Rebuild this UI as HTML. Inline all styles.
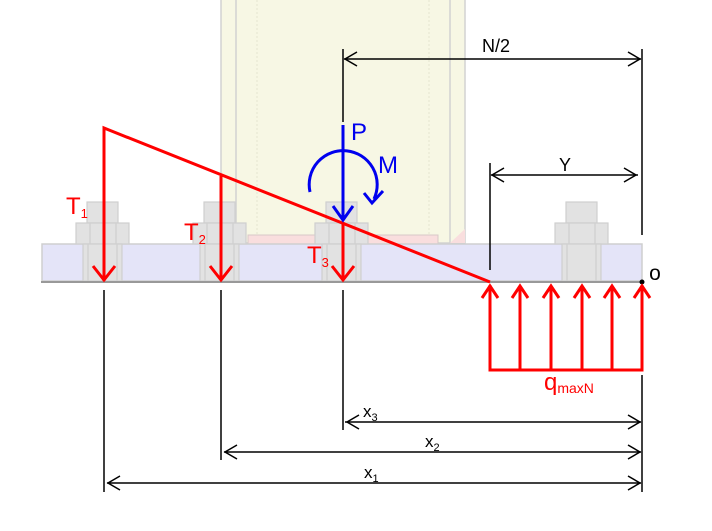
<!DOCTYPE html>
<html><head><meta charset="utf-8"><style>html,body{margin:0;padding:0;background:#fff}svg{display:block}</style></head>
<body>
<svg width="712" height="531" viewBox="0 0 712 531" xmlns="http://www.w3.org/2000/svg" font-family="Liberation Sans, sans-serif">
<defs>
<g id="bolt">
  <rect x="-17" y="202" width="31" height="21" fill="#e2e2e2" stroke="#cfcfcf" stroke-width="1.2"/>
  <rect x="-28" y="223" width="53" height="21" fill="#e2e2e2" stroke="#cfcfcf" stroke-width="1.2"/>
  <line x1="-14" y1="223" x2="-14" y2="244" stroke="#cfcfcf" stroke-width="1.2"/>
  <line x1="12" y1="223" x2="12" y2="244" stroke="#cfcfcf" stroke-width="1.2"/>
  <rect x="-21" y="244" width="39" height="37" fill="#e2e2e2" stroke="#cfcfcf" stroke-width="1.2"/>
  <line x1="-16" y1="244" x2="-16" y2="281" stroke="#cfcfcf" stroke-width="1.2"/>
  <line x1="13" y1="244" x2="13" y2="281" stroke="#cfcfcf" stroke-width="1.2"/>
</g>
</defs>
<!-- column -->
<rect x="221" y="-2" width="244" height="245" fill="#f7f7e4" stroke="#d2d2d2" stroke-width="1.5"/>
<line x1="236" y1="0" x2="236" y2="243" stroke="#d2d2d2" stroke-width="1.5"/>
<line x1="450" y1="0" x2="450" y2="243" stroke="#d2d2d2" stroke-width="1.5"/>
<line x1="257" y1="0" x2="257" y2="235" stroke="#e4e4d0" stroke-width="1" stroke-dasharray="2,2"/>
<line x1="429" y1="0" x2="429" y2="235" stroke="#e4e4d0" stroke-width="1" stroke-dasharray="2,2"/>
<rect x="248" y="235" width="190" height="9" fill="#f9dede" stroke="#d8c8c8" stroke-width="1"/>
<polygon points="450,243 465,243 465,229" fill="#f9dede"/>
<!-- base plate -->
<rect x="42" y="244" width="600" height="37" fill="#e4e4f8" stroke="#cfcfcf" stroke-width="1.5"/>
<use href="#bolt" x="104"/>
<use href="#bolt" x="221"/>
<use href="#bolt" x="343"/>
<use href="#bolt" x="583"/>
<line x1="41" y1="282" x2="642" y2="282" stroke="#999" stroke-width="2"/>
<!-- dimension lines -->
<g stroke="#000" stroke-width="1.5" fill="none">
  <line x1="343" y1="49" x2="343" y2="122"/>
  <line x1="642" y1="49" x2="642" y2="235"/>
  <line x1="344" y1="59" x2="641" y2="59"/>
  <polyline points="357,52 345,59 357,66"/><polyline points="628,52 640,59 628,66"/>
  <line x1="490" y1="163" x2="490" y2="270"/>
  <line x1="491" y1="175" x2="638" y2="175"/>
  <polyline points="504,168 492,175 504,182"/><polyline points="624,168 636,175 624,182"/>
  <line x1="104" y1="290" x2="104" y2="492"/>
  <line x1="221" y1="290" x2="221" y2="460"/>
  <line x1="343" y1="290" x2="343" y2="430"/>
  <line x1="642" y1="375" x2="642" y2="492"/>
  <line x1="345" y1="422" x2="641" y2="422"/>
  <polyline points="359,415 347,422 359,429"/><polyline points="628,415 640,422 628,429"/>
  <line x1="224" y1="452" x2="641" y2="452"/>
  <polyline points="237,445 225,452 237,459"/><polyline points="628,445 640,452 628,459"/>
  <line x1="107" y1="483" x2="641" y2="483"/>
  <polyline points="120,476 108,483 120,490"/><polyline points="628,476 640,483 628,490"/>
</g>
<g font-size="18" fill="#000">
  <text x="482" y="52">N/2</text>
  <text x="559" y="171">Y</text>
  <text x="655" y="280" font-size="21" text-anchor="middle">o</text>
  <text x="363" y="417" font-size="17">x<tspan font-size="11" dy="4">3</tspan></text>
  <text x="425" y="447" font-size="17">x<tspan font-size="11" dy="4">2</tspan></text>
  <text x="364" y="478" font-size="17">x<tspan font-size="11" dy="4">1</tspan></text>
</g>
<circle cx="642" cy="282" r="2.5" fill="#000"/>
<!-- red -->
<g stroke="#ff0000" stroke-width="3" fill="none">
  <polyline points="104,281 104,128 490,282"/>
  <line x1="221" y1="176" x2="221" y2="280"/>
  <line x1="343" y1="222" x2="343" y2="280"/>
  <polyline points="93,266 104,280 115,266"/>
  <polyline points="210,266 221,280 232,266"/>
  <polyline points="332,266 343,280 354,266"/>
  <polyline points="490,285 490,370 642,370 642,285"/>
  <line x1="520" y1="286" x2="520" y2="370"/><line x1="551" y1="286" x2="551" y2="370"/>
  <line x1="582" y1="286" x2="582" y2="370"/><line x1="612" y1="286" x2="612" y2="370"/>
  <polyline points="482,298 490,286 498,298"/><polyline points="512,298 520,286 528,298"/>
  <polyline points="543,298 551,286 559,298"/><polyline points="574,298 582,286 590,298"/>
  <polyline points="604,298 612,286 620,298"/><polyline points="634,298 642,286 650,298"/>
</g>
<g fill="#ff0000">
  <text x="66" y="214" font-size="24">T<tspan font-size="13" dy="4">1</tspan></text>
  <text x="184" y="240" font-size="24">T<tspan font-size="13" dy="4">2</tspan></text>
  <text x="307" y="263" font-size="24">T<tspan font-size="13" dy="4">3</tspan></text>
  <text x="544" y="390" font-size="24">q<tspan font-size="14" dy="3">maxN</tspan></text>
</g>
<!-- blue -->
<g stroke="#0000ee" stroke-width="3" fill="none">
  <line x1="343" y1="125" x2="343" y2="219"/>
  <polyline points="333,206 343,220 353,206"/>
  <path d="M310,192 A34,34 0 1 1 374,199"/>
  <polyline points="364,193 372,203 383,191"/>
</g>
<g fill="#0000ee" font-size="24">
  <text x="351" y="140">P</text>
  <text x="378" y="173">M</text>
</g>
</svg>
</body></html>
